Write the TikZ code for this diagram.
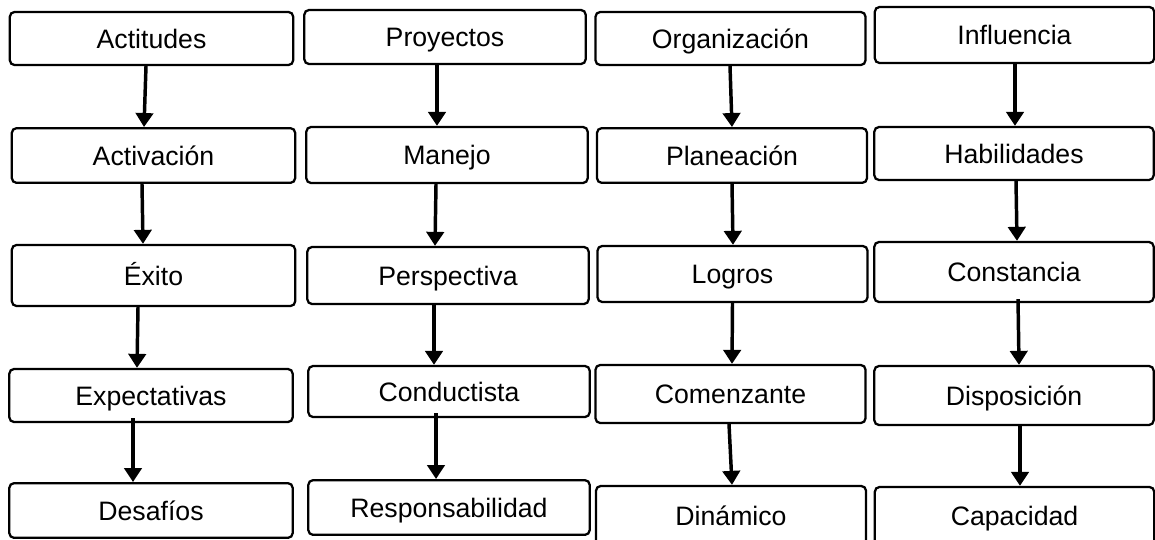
\documentclass[tikz,border=0pt]{standalone}
\usepackage{fontspec}
\setmainfont{Liberation Sans}
\usetikzlibrary{arrows.meta,calc}

\begin{document}
\begin{tikzpicture}[
    x=0.75pt, y=-0.75pt,
    box/.style={rectangle, draw, line width=1.7pt, rounded corners=3.5pt, inner sep=0pt, text height=14.3pt, text depth=0pt, minimum height=41pt, font=\fontsize{20}{24}\selectfont},
    colA/.style={box, minimum width=212.5pt},
    colB/.style={box, minimum width=211pt},
    colC/.style={box, minimum width=202.5pt},
    colD/.style={box, minimum width=209.5pt},
    line/.style={draw, line width=2.6pt, -{Triangle[length=10.5pt,width=13pt]}}
]
\clip (0,0) rectangle (1155,539);

% Column 1
\node [colA, minimum height=39.75pt] (act) at (151.5,38.5) {Actitudes};
\node [colA] (actv) at (153.5,155.5) {Activación};
\node [colA, minimum height=45.75pt] (exi) at (153.5,275.5) {Éxito};
\node [colA, minimum height=39.75pt] (expe) at (151,395.5) {Expectativas};
\node [colA] (desa) at (151,510.5) {Desafíos};

% Column 2
\node [colB, minimum height=40.5pt] (proy) at (445,37) {Proyectos};
\node [colB, minimum height=42pt] (mane) at (447,155) {Manejo};
\node [colB, minimum height=42.75pt] (pers) at (448,275.5) {Perspectiva};
\node [colB, minimum height=38.25pt] (cond) at (449,391.5) {Conductista};
\node [colB] (resp) at (449,507.5) {Responsabilidad};

% Column 3
\node [colC, minimum height=39.75pt] (orga) at (730.5,38.5) {Organización};
\node [colC] (plan) at (732,155.5) {Planeación};
\node [colC, minimum height=42pt] (logr) at (732.5,274) {Logros};
\node [colC, minimum height=43.5pt] (come) at (730.5,394) {Comenzante};
\node [colC, minimum height=44.25pt] (dina) at (731,515.5) {Dinámico};

% Column 4
\node [colD, minimum height=42pt] (infl) at (1014.5,35) {Influencia};
\node [colD, minimum height=39.75pt] (habi) at (1014,153.5) {Habilidades};
\node [colD, minimum height=45pt] (cons) at (1014,272) {Constancia};
\node [colD, minimum height=44.25pt] (disp) at (1014,395.5) {Disposición};
\node [colD, minimum height=43.5pt] (capa) at (1014.5,516) {Capacidad};

% Connections, column 1
\path [line] ($(act.south)+(-5.5,0)$) -- ($(actv.north)+(-9.5,0)$);
\path [line] ($(actv.south)+(-11.5,0)$) -- ($(exi.north)+(-10.5,0)$);
\path [line] ($(exi.south)+(-15.5,0)$) -- ($(expe.north)+(-14,0)$);
\path [line] ($(expe.south)+(-18,-5)$) -- ($(desa.north)+(-18,0)$);

% Connections, column 2
\path [line] ($(proy.south)+(-8,0)$) -- ($(mane.north)+(-10,0)$);
\path [line] ($(mane.south)+(-11,0)$) -- ($(pers.north)+(-13,0)$);
\path [line] ($(pers.south)+(-14,0)$) -- ($(cond.north)+(-15,0)$);
\path [line] ($(cond.south)+(-13,-5)$) -- ($(resp.north)+(-13,0)$);

% Connections, column 3
\path [line] ($(orga.south)+(-0.5,0)$) -- (plan.north);
\path [line] (plan.south) -- ($(logr.north)+(0.5,0)$);
\path [line] (logr.south) -- ($(come.north)+(1.5,0)$);
\path [line] ($(come.south)+(-1.5,0)$) -- ($(dina.north)+(1,0)$);

% Connections, column 4
\path [line] ($(infl.south)+(0.5,0)$) -- ($(habi.north)+(1,0)$);
\path [line] ($(habi.south)+(2,0)$) -- ($(cons.north)+(3,0)$);
\path [line] ($(cons.south)+(4,-4)$) -- ($(disp.north)+(5,0)$);
\path [line] ($(disp.south)+(6,-2)$) -- ($(capa.north)+(5.5,0)$);

\end{tikzpicture}
\end{document}
